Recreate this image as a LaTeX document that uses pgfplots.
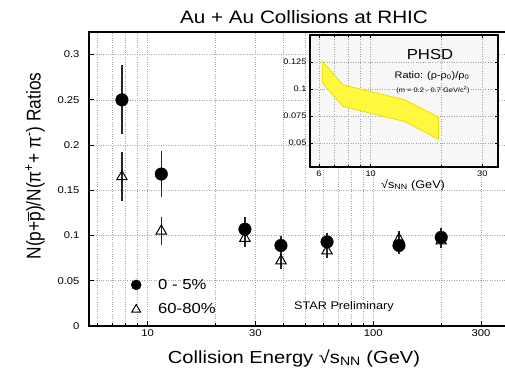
\documentclass[border=0pt]{standalone}
\usepackage{graphicx}
\usepackage{fontspec}
\setmainfont{Liberation Sans}[FakeStretch=1.15]
\newfontfamily\plainsans{Liberation Sans}
\usepackage{pgfplots}
\pgfplotsset{compat=1.18}

\definecolor{gridgray}{RGB}{165,165,165}
\definecolor{insetbg}{RGB}{247,247,247}
\definecolor{bandfill}{RGB}{255,248,60}
\definecolor{bandedge}{RGB}{238,222,0}

\newcommand{\fs}[1]{\fontsize{#1}{#1}\selectfont}

\begin{document}
\begin{tikzpicture}[x=1pt,y=1pt]
\path[use as bounding box] (0,0) rectangle (505,370);

% ---------------- main panel: STAR data ----------------
\begin{axis}[
  at={(89pt,44pt)}, anchor=south west,
  scale only axis, width=442pt, height=294pt,
  xmode=log, xmin=5.5, xmax=500,
  ymin=0, ymax=0.325,
  xtick={10,30,100,300}, xticklabels={10,30,100,300},
  minor xtick={6,7,8,9,20,40,50,60,70,80,90,200,400,500},
  ytick={0,0.05,0.1,0.15,0.2,0.25,0.3},
  yticklabels={0,0.05,0.1,0.15,0.2,0.25,0.3},
  xtick pos=left, ytick pos=left,
  tick align=inside,
  major tick length=5pt, minor tick length=3.5pt,
  grid=both,
  major grid style={dotted, gridgray, line width=0.6pt},
  minor grid style={dotted, gridgray, line width=0.6pt},
  axis line style={line width=1.2pt},
  every tick/.style={black, line width=0.7pt},
  xticklabel style={font=\fs{9.8}},
  yticklabel style={font=\fs{9.8}, xshift=-6pt},
  /pgf/number format/assume math mode=true,
  legend style={draw=none, fill=none, at={(0.095,0.098)}, anchor=west,
    font=\fs{14.5}, row sep=9pt, inner sep=0pt,
    /tikz/every odd column/.append style={column sep=15pt}},
  legend cell align=left,
  error bars/error bar style={line width=1.4pt, black!85},
]
\addlegendimage{only marks, mark=*, mark size=5pt, black}
\addlegendentry{0 - 5\%}
\addlegendimage{only marks, mark=triangle, mark size=5pt, black,
  mark options={fill=white, line width=1pt}}
\addlegendentry{60-80\%}

% 60-80% centrality
\addplot[forget plot, only marks, mark=triangle, mark size=6pt, black,
  mark options={fill=white, line width=1pt},
  error bars/.cd, y dir=both, y explicit, error mark=none]
  coordinates {
  (7.7,0.165)  +- (0,0.027)
  (11.5,0.105) +- (0,0.015)
  (27,0.097)   +- (0,0.010)
  (39,0.072)   +- (0,0.009)
  (62.4,0.083) +- (0,0.008)
  (130,0.096)  +- (0,0.009)
  (200,0.094)  +- (0,0.008)
  };

% 0-5% centrality
\addplot[forget plot, only marks, mark=*, mark size=6.3pt, black,
  error bars/.cd, y dir=both, y explicit, error mark=none]
  coordinates {
  (7.7,0.250)  +- (0,0.038)
  (11.5,0.168) +- (0,0.025)
  (27,0.107)   +- (0,0.013)
  (39,0.089)   +- (0,0.010)
  (62.4,0.093) +- (0,0.010)
  (130,0.089)  +- (0,0.009)
  (200,0.098)  +- (0,0.010)
  };
\end{axis}

% ---------------- inset: PHSD band ----------------
\begin{axis}[
  at={(310pt,203pt)}, anchor=south west,
  scale only axis, width=188pt, height=132pt,
  xmode=log, xmin=5.5, xmax=35,
  ymin=0.028, ymax=0.15,
  axis background/.style={fill=insetbg},
  xtick={6,10,30}, xticklabels={6,10,30},
  minor xtick={7,8,9,20},
  ytick={0.05,0.075,0.1,0.125},
  yticklabels={0.05,0.075,0.1,0.125},
  tick align=inside,
  major tick length=3pt, minor tick length=2pt,
  grid=both,
  major grid style={dotted, gridgray, line width=0.6pt},
  minor grid style={dotted, gridgray, line width=0.6pt},
  axis line style={line width=1.2pt},
  every tick/.style={black, line width=0.6pt},
  xticklabel style={font=\fs{8}},
  yticklabel style={font=\fs{8}},
  /pgf/number format/assume math mode=true,
]
\addplot[fill=bandfill, draw=bandedge, line width=0.8pt]
  coordinates {
  (6.2,0.126) (7.6,0.104) (14.0,0.090) (19.5,0.074)
  (19.5,0.0535) (14.0,0.070) (7.6,0.084) (6.2,0.106)
  } -- cycle;
\end{axis}

% ---------------- text ----------------
\node at (304,353) {\fs{18}Au + Au Collisions at RHIC};
\node at (294,12) {\fs{17.5}Collision Energy √s\textsubscript{NN} (GeV)};
\node[rotate=90] at (35,204) {\scalebox{1}[1.15]{\plainsans\fs{17.3}%
  N(p+$\overline{\mbox{p}}$)/N(π\textsuperscript{+}+ π\textsuperscript{-}) Ratios}};
\node at (344,63) {\fs{11}STAR Preliminary};

\node at (430,315) {\fs{14.5}PHSD};
\node at (432,294) {\fs{9.5}Ratio: (ρ-ρ\textsubscript{0})/ρ\textsubscript{0}};
\node at (433,280) {\fs{6.5}(m = 0.2 - 0.7 GeV/c\textsuperscript{2})};
\node at (413,185) {\fs{11}√s\textsubscript{NN} (GeV)};
\end{tikzpicture}
\end{document}
